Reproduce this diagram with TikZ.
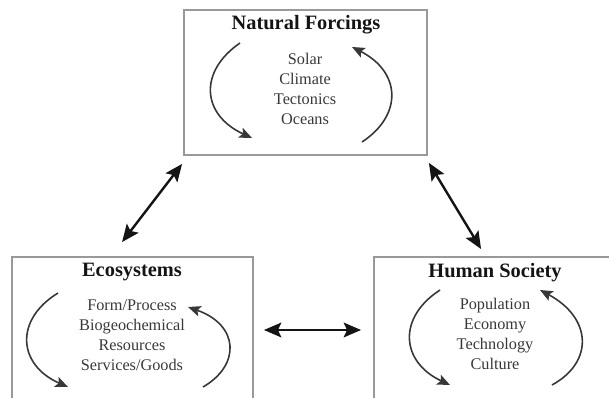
\documentclass[tikz,border=0pt]{standalone}
\usepackage{fontspec}
\setmainfont{Liberation Serif}
\usetikzlibrary{arrows.meta,calc}
\definecolor{boxgray}{gray}{0.6}
\definecolor{itemgray}{gray}{0.22}
\definecolor{arrowdark}{gray}{0.08}
\tikzset{
  panel/.style={draw=boxgray, line width=1.4pt, minimum width=#1, inner sep=0pt},
  ttl/.style={font=\fontsize{15.3}{18}\selectfont\bfseries, text=black!92, inner sep=0pt},
  items/.style={font=\fontsize{12.2}{15}\selectfont, text=itemgray, align=center, inner sep=0pt},
  link/.style={arrowdark, line width=1.8pt, {Stealth[length=13pt,width=11pt,inset=2.5pt]}-{Stealth[length=13pt,width=11pt,inset=2.5pt]}},
  cycle/.style={arrowdark!85, line width=1.2pt, -{Stealth[length=9.5pt,width=8pt,inset=2pt]}}
}
\begin{document}
\begin{tikzpicture}[x=0.75pt,y=-0.75pt]
\useasboundingbox (0,0) rectangle (609,398);
\clip (0,0) rectangle (609,398);
% panels
\node[panel=182.25pt, minimum height=108.75pt] (nf) at (305.5,82.5) {};
\node[panel=180.75pt, minimum height=122.25pt] (eco) at (132.5,338.5) {};
\node[panel=180.75pt, minimum height=122.25pt] (hum) at (494.5,338.5) {};
% titles
\node[ttl] (nft) at (306,25) {Natural Forcings};
\node[ttl] (ecot) at (132,272) {Ecosystems};
\node[ttl] (humt) at (495,273) {Human Society};
% item lists
\node[items] (nfi) at (305,89) {Solar\\Climate\\Tectonics\\Oceans};
\node[items] (ecoi) at (132,335) {Form/Process\\Biogeochemical\\Resources\\Services/Goods};
\node[items] (humi) at (495,334) {Population\\Economy\\Technology\\Culture};
% links between panels
\draw[link] ([shift={(-1,8)}]nf.south west) -- ([shift={(111,-14)}]eco.north west);
\draw[link] ([shift={(1,7)}]nf.south east) -- ([shift={(108,-7)}]hum.north west);
\draw[link] ([shift={(10,-8.5)}]eco.east) -- ([shift={(-12,-8.5)}]hum.west);
% cycles
\draw[cycle] (240,43) .. controls (198,72) and (202,115) .. (252,138);
\draw[cycle] (362,142) .. controls (403,115) and (401,72) .. (352,47);
\draw[cycle] (58,293) .. controls (14,320) and (18,365) .. (68,387);
\draw[cycle] (203,387) .. controls (241,365) and (239,325) .. (188,307);
\draw[cycle] (440,290) .. controls (397,318) and (401,362) .. (450,385);
\draw[cycle] (552,385) .. controls (594,362) and (592,318) .. (540,290);
\end{tikzpicture}
\end{document}
